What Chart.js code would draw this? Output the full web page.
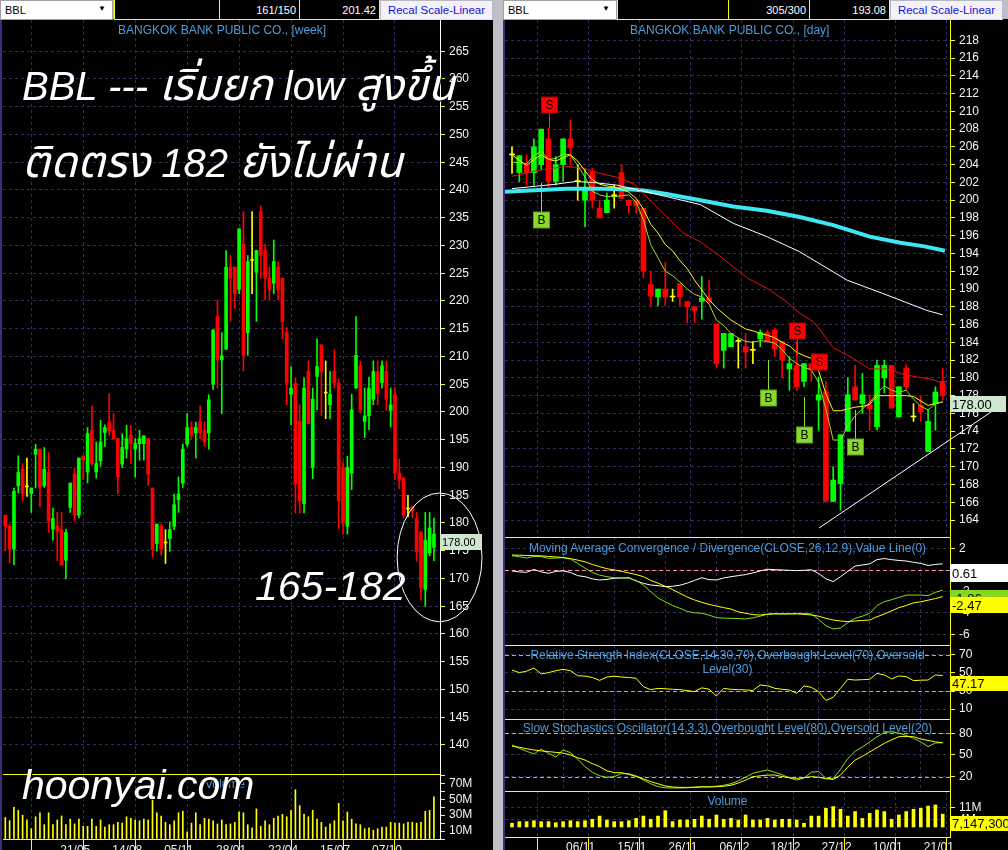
<!DOCTYPE html>
<html><head><meta charset="utf-8">
<script src="https://cdn.jsdelivr.net/npm/chart.js"></script>
<style>
html,body{margin:0;padding:0;width:1008px;height:850px;overflow:hidden;background:#bfbfc8;}
#stage{position:absolute;left:0;top:0;width:1008px;height:850px;}
.blk{position:absolute;background:#000;}
canvas{position:absolute;}
.hdr{position:absolute;top:0;height:20px;box-sizing:border-box;font:11px "Liberation Sans",Arial,sans-serif;white-space:nowrap;}
.inp{background:#fff;color:#000;border:1px solid #a0a0a8;padding:3px 0 0 4px;}
.arr{position:absolute;right:6px;top:3px;font-size:8px;}
.box{background:#000;color:#fff;border:1px solid #ffff00;border-top:none;text-align:right;padding:4px 3px 0 0;}
.btn{background:#f4f1fb;color:#1414d2;border:1px solid #b8b8c0;border-bottom:1px solid #ffff00;text-align:center;padding:3px 0 0 0;font-size:11.5px;}
.ttl{position:absolute;font:12px "Liberation Sans",Arial,sans-serif;color:#4c9cd8;white-space:nowrap;z-index:3;}
.big{position:absolute;color:#fff;font-style:italic;font-family:"Liberation Sans",Arial,"Noto Sans Thai","Loma","Garuda","Norasi",sans-serif;white-space:nowrap;text-shadow:1px 1px 1px #000;line-height:1;z-index:5;}
.th{font-size:44px;}
</style></head><body><div id="stage">
<div class="blk" style="left:0;top:19px;width:493px;height:831px;border-left:2px solid #3a2f7a;box-sizing:border-box;"></div>
<div class="blk" style="left:503px;top:19px;width:505px;height:831px;border-left:2px solid #3a2f7a;box-sizing:border-box;"></div>

<div class="hdr inp" style="left:0;width:113px;">BBL<span class="arr">&#9660;</span></div>
<div class="hdr box" style="left:114px;width:106px;"></div>
<div class="hdr box" style="left:219px;width:81px;">161/150</div>
<div class="hdr box" style="left:299px;width:81px;">201.42</div>
<div class="hdr btn" style="left:380px;width:113px;">Recal Scale-Linear</div>

<div class="hdr inp" style="left:503px;width:114px;">BBL<span class="arr">&#9660;</span></div>
<div class="hdr box" style="left:617px;width:112px;"></div>
<div class="hdr box" style="left:728px;width:82px;">305/300</div>
<div class="hdr box" style="left:809px;width:81px;">193.08</div>
<div class="hdr btn" style="left:890px;width:113px;">Recal Scale-Linear</div>

<div id="charts"></div>

<div class="ttl" style="left:118px;top:23px;">BANGKOK BANK PUBLIC CO., [week]</div>
<div class="ttl" style="left:630px;top:23px;">BANGKOK BANK PUBLIC CO., [day]</div>
<div class="ttl" style="left:205px;top:777px;">Volume</div>
<div class="ttl" style="left:505px;width:445px;text-align:center;top:541px;">Moving Average Convergence / Divergence(CLOSE,26,12,9),Value Line(0)</div>
<div class="ttl" style="left:505px;width:445px;text-align:center;top:648px;line-height:14px;white-space:normal;">Relative Strength Index(CLOSE,14,30,70),Overbought Level(70),Oversold<br>Level(30)</div>
<div class="ttl" style="left:505px;width:445px;text-align:center;top:721px;">Slow Stochastics Oscillator(14,3,3),Overbought Level(80),Oversold Level(20)</div>
<div class="ttl" style="left:505px;width:445px;text-align:center;top:794px;">Volume</div>

<div class="big" style="left:22px;top:63px;font-size:40px;">BBL --- <span class="th">เริ่มยก</span> low <span class="th">สูงขึ้น</span></div>
<div class="big" style="left:22px;top:140px;font-size:40px;"><span class="th">ติดตรง</span> 182 <span class="th">ยังไม่ผ่าน</span></div>
<div class="big" style="left:255px;top:566px;font-size:41px;">165-182</div>
<div class="big" style="left:22px;top:765px;font-size:41px;">hoonyai.com</div>
</div>
<script>
// ================= WEEKLY (left) =================
const wkOpen = [181.4,179.4,175.3,186.7,189.7,186.5,185.3,192.4,193.3,186.7, 189.2,178.9,179.4,178.8,173.3,182.8,188.8,181.4,192.1,189.2, 196.7,189.2,191.2,196.3,198.2,196.7,195.2,190.6,193.3,195.8, 193.3,194.3,194.3,195.2,186.3,176.3,179.4,176.4,177.2,179.4, 184.2,187.2,194.2,197.2,196.2,198.2,196.7,196.2,205.0,217.2, 209.4,211.3,226.1,226.1,222.1,230.2,214.3,227.3,225.2,236.1, 229.1,224.1,223.2,226.1,224.1,214.3,203.2,205.2,198.3,183.5, 207.3,190.0,206.4,212.1,203.4,201.3,207.3,205.2,190.0,179.4, 189.0,204.3,208.3,198.3,199.3,202.3,207.3,205.3,207.3,200.3, 203.2,189.0,188.1,182.5,182.9,180.9,178.4,168.0,174.6,175.6];
const wkHigh = [181.4,179.8,186.3,192.1,190.7,191.7,186.3,194.2,193.3,193.6, 192.7,182.7,181.9,181.9,178.9,187.2,189.8,191.7,192.1,197.2, 201.1,194.6,198.5,197.7,203.3,199.7,195.2,196.1,197.6,197.6, 195.2,196.7,195.7,195.2,186.3,179.8,179.8,178.8,180.2,185.2, 188.3,194.2,199.7,198.2,198.2,201.1,198.2,203.1,214.8,220.2, 214.3,229.1,228.2,226.1,233.0,236.1,228.2,236.1,229.1,237.1, 230.2,226.1,231.0,227.1,224.1,215.2,208.2,206.2,201.3,206.2, 209.2,204.3,213.2,212.1,209.2,207.3,211.2,206.0,191.0,192.0, 203.2,217.2,209.2,204.3,206.3,209.2,209.2,209.2,209.2,204.3, 204.3,191.5,188.1,185.0,183.0,181.9,178.4,181.9,181.9,180.9];
const wkLow = [175.0,172.8,172.5,185.4,183.9,184.8,181.9,186.3,182.9,186.4, 178.3,176.9,173.2,172.4,169.9,181.9,180.3,180.9,187.8,187.2, 190.3,188.1,190.2,193.8,195.8,195.2,185.3,190.0,191.7,190.7, 188.3,191.3,191.3,186.8,173.8,174.9,174.2,172.7,174.9,178.8, 181.9,186.4,193.8,195.2,191.7,195.2,193.8,193.3,204.0,204.3, 199.7,211.3,216.3,218.7,221.3,207.4,210.2,221.3,216.3,224.1, 220.2,220.2,221.3,220.2,213.2,201.3,197.7,181.8,181.8,181.8, 197.9,188.0,200.4,199.3,198.8,198.8,204.3,179.0,178.0,178.0, 186.0,204.3,199.8,195.4,196.8,201.3,201.3,204.3,200.3,197.3, 187.8,186.2,180.9,181.1,181.0,173.1,166.1,165.0,174.1,173.2];
const wkClose = [179.4,175.3,185.7,189.1,185.3,186.5,186.3,193.3,186.4,189.7, 180.4,180.8,178.5,172.4,178.3,187.2,181.4,191.7,191.4,196.1, 190.7,190.7,194.6,197.2,196.6,195.2,188.3,193.6,195.2,194.3, 194.3,195.2,195.7,188.8,175.2,179.8,175.3,176.4,178.8,183.3, 185.2,193.3,197.2,195.8,197.2,196.2,194.6,202.2,214.8,209.4, 210.1,226.1,224.1,221.3,233.0,210.2,227.1,227.3,229.1,228.2, 224.1,222.1,227.1,222.1,216.3,205.2,204.3,187.0,184.0,204.3, 197.9,202.3,208.2,207.3,203.4,203.2,205.2,184.0,180.0,190.0, 200.4,210.2,200.4,199.3,204.3,207.3,203.3,208.3,202.3,201.3, 189.0,187.7,181.4,182.5,182.1,174.8,168.3,176.9,179.1,178.0];
const wkVolM = [27,23,40,36,30,24,13,28,33,18, 33,18,24,29,18,25,19,25,16,16, 25,16,24,15,18,18,21,20,28,26, 24,23,25,24,57,33,29,21,18,23, 33,35,9,20,33,18,26,25,23,19, 24,18,19,21,34,33,18,14,38,16, 23,18,26,29,31,28,36,62,42,31, 28,36,25,21,15,19,23,45,23,34, 25,19,18,13,14,11,13,15,15,21, 20,20,19,21,21,20,21,35,36,53];
const wkTickIdx = [12,24,36,48,60,72,84,96];
const wkTickLbl = ['21/05','14/08','05/11','28/01','22/04','15/07','07/10',''];
const wkPriceTicks = [140,145,150,155,160,165,170,175,180,185,190,195,200,205,210,215,220,225,230,235,240,245,250,255,260,265];
const wkVolTicks = [0,10,20,30,40,50,60,70,80];
const wkVolLabelled = [10,30,50,70];
const wkZone = {idx:100.3, price:173.8, rIdx:9.8, rPrice:11.6};

// ================= DAILY (right) =================
const dyLabels = ['26/10','29/10','30/10','31/10','01/11','02/11','05/11','06/11','07/11','08/11','09/11','12/11','13/11','14/11','15/11','16/11','19/11','20/11','21/11','22/11','23/11','26/11','27/11','28/11','29/11','30/11','03/12','04/12','06/12','07/12','11/12','12/12','13/12','14/12','17/12','18/12','19/12','20/12','21/12','24/12','25/12','26/12','27/12','28/12','03/01','04/01','07/01','08/01','09/01','10/01','11/01','14/01','15/01','16/01','17/01','18/01','21/01','22/01','23/01','24/01'];
const dyTickIdx = [7,14,21,28,35,42,49,56];
const dyOpen = [205.1,203.1,204.0,203.1,204.0,206.9,202.1,204.0,206.9,202.1, 200.0,203.2,199.1,198.6,200.5,203.1,200.0,200.0,199.1,190.5, 189.1,190.0,189.1,190.6,188.6,188.0,188.6,189.0,186.1,183.1, 183.5,184.1,183.5,183.1,184.4,185.1,185.4,184.1,181.0,181.4, 179.6,181.6,177.5,178.4,166.1,168.1,174.0,179.0,177.1,177.0, 174.5,180.0,181.4,175.6,181.1,175.6,176.9,171.7,177.1,179.6];
const dyHigh = [206.0,205.0,205.1,206.9,208.0,208.1,204.9,206.9,209.0,204.0, 203.5,203.6,200.0,200.8,201.7,204.0,200.0,200.0,199.1,192.0, 190.0,193.0,190.0,190.6,188.6,188.0,191.4,191.0,186.1,185.0, 185.0,184.4,185.0,184.1,185.4,185.4,185.6,184.1,182.4,184.1, 181.6,181.6,180.1,179.6,170.0,173.6,180.0,181.4,180.5,178.1, 182.0,182.0,181.4,179.0,181.5,177.1,177.9,176.4,179.0,181.1];
const dyLow = [203.0,202.1,201.7,201.7,203.4,201.5,201.7,202.1,204.0,200.0, 197.0,199.1,198.0,198.6,199.1,200.2,198.5,198.5,191.3,188.1, 188.1,188.1,188.6,188.1,186.2,186.2,186.6,188.4,181.1,181.1, 183.5,181.1,181.1,181.6,183.5,184.0,182.4,180.0,178.6,178.6, 179.0,179.6,174.1,166.1,166.1,165.1,174.0,177.5,176.0,174.1, 174.1,178.3,176.6,175.6,178.7,175.1,175.1,171.7,174.1,177.5];
const dyClose = [205.1,205.0,203.1,206.0,208.0,202.1,204.0,206.9,205.9,202.1, 201.1,200.0,198.0,200.0,200.5,200.2,199.4,199.4,192.0,189.2, 190.0,189.1,189.1,189.1,188.0,187.6,189.0,188.6,181.6,185.0, 185.0,184.1,182.9,183.1,185.1,184.1,183.3,182.0,181.6,179.0, 181.6,180.9,178.1,166.1,168.5,173.6,178.1,177.5,178.1,176.5, 181.4,181.4,176.6,179.0,179.0,175.6,176.2,175.1,178.4,178.0];
const dyMaFast = [204.3,204.2,204.1,205.0,205.5,204.6,204.7,205.2,205.1,203.9, 202.6,201.0,200.6,200.4,200.4,200.5,200.6,199.8,197.8,195.0, 193.5,192.0,191.5,190.8,190.0,189.4,189.1,188.3,186.5,185.9, 185.0,184.5,184.1,184.0,184.2,184.1,183.9,183.2,182.2,181.6, 181.2,180.9,179.5,176.5,173.0,173.0,174.6,175.7,176.5,177.2, 178.3,179.1,178.6,178.4,178.6,177.6,176.8,176.4,177.1,177.3];
const dyMaMid = [205.1,204.5,203.9,204.6,205.1,204.6,204.4,204.8,205.1,204.4, 203.3,202.3,201.8,201.6,201.5,201.2,200.9,200.2,199.0,197.3, 196.3,195.0,194.3,193.2,192.3,191.0,189.9,188.8,187.9,187.2, 186.5,186.0,185.5,185.3,185.0,184.8,184.5,184.0,183.6,182.9, 182.5,182.2,180.8,178.2,176.3,176.3,176.5,176.7,176.8,177.0, 178.0,178.0,178.0,178.0,178.0,177.9,177.4,176.9,177.1,177.3];
const dyMaRedIdx = [0,3.8,7.5,9.8,12.1,14.3,16.6,18.9,21.2,23.5,25.8,28,30.3,32.3,34.9,37.4,39.4,41.3,42.2,44,46.3,49,51.3,54.1,57.7,59];
const dyMaRedVal = [202.7,203.4,203.8,203.6,203.0,202.6,201.9,200.0,198.1,196.3,195.3,194.0,192.5,191.2,190.1,188.7,187.3,186.3,185.4,183.4,182.4,181.0,181.0,180.3,179.8,179.4];
const dyMaWhiteIdx = [0,2.4,6,8.7,11,14.3,17.5,21.2,25.8,30.3,34.9,39.4,45.9,50.8,56.8,59];
const dyMaWhiteVal = [201.3,201.5,201.8,202.1,202.0,201.7,201.1,200.4,199.5,197.4,195.9,194.2,191.0,189.5,187.6,187.1];
const dyMaCyanIdx = [-1,2.4,7.5,12.1,16.6,18,21.2,25.8,30.3,34.9,39.4,44,49,53.2,56.5,59.3];
const dyMaCyanVal = [200.95,201.1,201.3,201.3,201.2,201.1,200.7,200.0,199.3,198.8,198.1,197.2,195.9,195.2,194.8,194.3];
const trendIdx = [42.05, 67.5];
const trendVal = [163.1, 177.2];
const sigIdx = [5, 4, 39, 42, 35, 40, 47];
const sigType = ['S','B','S','S','B','B','B'];
const sigBox = [210.7, 197.8, 185.3, 181.8, 177.7, 173.6, 172.2];
const sigFrom = [208.1, 201.9, 182.6, 181.8, 182.0, 177.9, 176.4];
const dyPriceTicks = [164,166,168,170,172,174,176,178,180,182,184,186,188,190,192,194,196,198,200,202,204,206,208,210,212,214,216,218];
const dyVolM = [2.1,3.0,3.0,3.5,3.0,3.0,2.4,3.0,3.5,3.0, 3.5,4.3,6.1,3.9,3.0,3.0,3.5,4.8,6.1,4.3, 6.1,9.1,3.0,3.9,3.9,4.3,6.1,4.3,6.7,4.3, 4.8,3.9,6.7,3.9,3.9,4.8,3.9,4.3,4.3,3.9, 2.1,6.1,6.1,10.4,11.4,9.9,6.1,8.6,4.8,7.6, 9.5,8.6,4.3,6.7,8.6,9.9,10.4,11.7,12.3,7.1473];
const dyVolTicks = [4, 11];
const macdLine = [1.37,1.27,1.15,1.3,1.28,1.12,1.15,1.18,1.05,0.65, 0.2,-0.2,-0.45,-0.6,-0.69,-0.72,-0.75,-0.95,-1.38,-2.0, -2.6,-2.95,-3.3,-3.56,-3.85,-3.98,-4.03,-4.2,-4.44,-4.48, -4.5,-4.52,-4.56,-4.45,-4.3,-4.1,-4.05,-4.09,-4.07,-4.03, -4.05,-4.09,-4.6,-5.2,-5.5,-5.4,-4.9,-4.5,-4.3,-4.03, -3.3,-2.94,-2.75,-2.55,-2.32,-2.32,-2.32,-2.38,-2.06,-1.86];
const macdSignal = [1.43,1.41,1.39,1.37,1.35,1.3,1.25,1.2,1.1,0.95, 0.8,0.55,0.34,0.15,0.03,-0.1,-0.25,-0.4,-0.6,-0.95, -1.2,-1.5,-1.8,-2.16,-2.5,-2.78,-3.0,-3.2,-3.35,-3.5, -3.63,-3.9,-4.03,-4.15,-4.19,-4.12,-4.09,-4.09,-4.09,-4.09, -4.12,-4.19,-4.3,-4.5,-4.66,-4.75,-4.81,-4.75,-4.7,-4.66, -4.35,-4.1,-3.8,-3.5,-3.3,-3.05,-2.95,-2.8,-2.65,-2.47];
const macdHist = [-0.06,-0.15,-0.19,0.08,-0.15,-0.28,-0.1,-0.06,-0.2,-0.5, -0.6,-0.8,-0.91,-0.85,-0.75,-0.72,-0.69,-1.0,-1.22,-1.38, -1.44,-1.53,-1.5,-1.4,-1.2,-0.95,-0.7,-0.88,-0.9,-0.72, -0.6,-0.5,-0.4,-0.25,-0.06,0.1,0.06,0.03,0.0,-0.03, 0.0,0.05,-0.3,-0.8,-1.06,-0.6,-0.1,0.4,0.5,0.6, 1.0,1.1,1.0,0.92,0.87,0.75,0.65,0.45,0.55,0.61];
const macdTicks = [-6,-4,-2,0,2];
const macdLevels = [0];
const rsi = [53.3,50.4,52,55.5,49,50.4,52.5,54.1,52.5,47, 46.5,45,41.8,45.5,46.5,45.5,45,44.1,34.8,31.5, 32.9,32.5,31.9,31.5,30.5,29.3,33.5,32,24.4,32.9, 31.9,31.5,31.2,30.6,36.7,35.8,33,31.9,31.1,27.4, 35.6,34.1,29.3,19.5,23.0,33,43,42.2,42.6,43.0, 49.6,47.8,43.5,46.7,46,41.5,42,42.2,47.8,47.17];
const rsiTicks = [10,30,50,70];
const rsiLevels = [30,70];
const stochK = [63.7,59.1,55,51.3,58,52.2,47,57,53.1,44, 33.7,26,21,19,19.9,24,24,21,15.2,10, 6,4.5,4.2,4.2,4.5,5.5,6,6,6.5,8, 10,14,19,24.5,27,29,26,22.5,18,15.2, 18,26,27,17.5,17.5,30,45,55,61,68, 75,81,82,80,77,73,68,61.4,66.5,66.9];
const stochD = [62.3,60.5,58.5,56.8,55.5,54.5,53.5,52.5,50,46, 42.9,38,33.7,28,25.4,25.4,23,20,17,13, 10,7,5.5,5,5,5,5.5,5.5,6,6.5, 8,11,15,19.9,21,22,22.2,20,18.5,17.5, 18.5,19.9,19,17,16.1,22,33,42.9,48,54, 60,66,71,75.2,75.5,75.2,72,70,68,66.9];
const stochTicks = [20,50,80];
const stochLevels = [20,80];

// ================= helpers =================
const FF = '"Liberation Sans", Arial, Helvetica, sans-serif';
const UP = '#00ff00', DN = '#ff0000', DJ = '#ffff00', YEL = '#ffff00', GRID = '#302d66', PINK = '#ff8c8c';
Chart.defaults.font.family = FF; Chart.defaults.font.size = 12; Chart.defaults.color = '#f2f2f2';
const holder = document.getElementById('charts');

function mkChart(left, top, w, h, cfg) {
  const cv = document.createElement('canvas');
  cv.width = w; cv.height = h;
  cv.style.left = left + 'px'; cv.style.top = top + 'px';
  cv.style.width = w + 'px'; cv.style.height = h + 'px';
  holder.appendChild(cv);
  return new Chart(cv.getContext('2d'), cfg);
}
function opts(padLeft, scales) {
  return {responsive:false, animation:false, devicePixelRatio:1, events:[],
    layout:{padding:{left:padLeft, right:0, top:0, bottom:0}},
    plugins:{legend:{display:false}, tooltip:{enabled:false}, title:{display:false}},
    scales};
}
function xAxis(min, max, tIdx, labelOf, show, axisH, pad) {
  return {type:'linear', min, max, offset:false,
    afterBuildTicks: s => { s.ticks = tIdx.map(v => ({value:v})); },
    afterFit: s => { s.height = show ? axisH : 0; s.paddingLeft = 0; s.paddingRight = 0; s.paddingTop = 0; s.paddingBottom = 0; },
    grid:{color:GRID, lineWidth:1, drawTicks:show, tickLength:axisH, tickColor:YEL, tickBorderDash:[], tickWidth:1},
    border:{display:show, color:YEL, dash:[3,3], width:1},
    ticks:{display:show, autoSkip:false, maxRotation:0, minRotation:0, align:'start', labelOffset:3, padding:pad, color:'#f0f0f0',
      callback: v => labelOf(v)}};
}
function yAxis(min, max, tVals, fmt, width, borderColor, gridOn) {
  return {position:'right', min, max,
    afterBuildTicks: s => { s.ticks = tVals.map(v => ({value:v})); },
    afterFit: s => { s.width = width; s.paddingTop = 0; s.paddingBottom = 0; },
    grid:{color:GRID, drawOnChartArea:gridOn, tickLength:5, tickColor:YEL, tickBorderDash:[], tickWidth:1},
    border:{color:borderColor, dash:[3,3], width:1},
    ticks:{padding:4, color:'#f4f4f4', autoSkip:false, callback: fmt}};
}
function candleSets(o, h, l, c, bodyW) {
  const col = o.map((v, i) => c[i] > v ? UP : (c[i] < v ? DN : DJ));
  return [
    {type:'bar', data:o.map((v, i) => ({x:i, y:[v, c[i]]})), backgroundColor:col, barThickness:bodyW, minBarLength:1, grouped:false, borderWidth:0, order:5},
    {type:'bar', data:o.map((v, i) => ({x:i, y:[l[i], h[i]]})), backgroundColor:col, barThickness:1, grouped:false, borderWidth:0, order:6}
  ];
}
function lineSet(xs, ys, color, width, order, extra) {
  return Object.assign({type:'line', data:ys.map((v, i) => ({x:xs[i], y:v})), borderColor:color, borderWidth:width,
    pointRadius:0, fill:false, tension:0, order}, extra || {});
}
const seq = n => Array.from({length:n}, (_, i) => i);
function topLine() {
  return {id:'topLine', afterDraw(chart) {
    const {ctx, chartArea:a} = chart;
    ctx.save(); ctx.strokeStyle = YEL; ctx.lineWidth = 1;
    ctx.beginPath(); ctx.moveTo(a.left, a.top + 0.5); ctx.lineTo(a.right, a.top + 0.5); ctx.stroke(); ctx.restore();
  }};
}
function levels(vals) {
  return {id:'levels', beforeDatasetsDraw(chart) {
    const {ctx, chartArea:a, scales:{y}} = chart;
    ctx.save(); ctx.strokeStyle = PINK; ctx.lineWidth = 1; ctx.setLineDash([4,3]);
    vals.forEach(v => { const py = Math.round(y.getPixelForValue(v)) + 0.5;
      ctx.beginPath(); ctx.moveTo(a.left, py); ctx.lineTo(a.right, py); ctx.stroke(); });
    ctx.restore();
  }};
}
function tags(items, w, font) {
  return {id:'tags', afterDraw(chart) {
    const {ctx, chartArea:a, scales:{y}} = chart;
    ctx.save(); ctx.font = font; ctx.textBaseline = 'middle'; ctx.textAlign = 'left';
    items.forEach(t => {
      const py = Math.round(y.getPixelForValue(t.v)) + (t.dy || 0);
      ctx.fillStyle = t.bg; ctx.fillRect(a.right, py, w, t.h);
      ctx.fillStyle = t.fg; ctx.fillText(t.text, a.right + 2, py + t.h / 2 + 1);
    });
    ctx.restore();
  }};
}

// ================= LEFT: weekly price =================
const wkN = wkOpen.length;
const wkX = [-0.53, 100.4];
const wkLabel = v => { const k = wkTickIdx.indexOf(v); return k >= 0 ? wkTickLbl[k] : ''; };
const zonePlugin = {id:'zone', afterDatasetsDraw(chart) {
  const {ctx, scales:{x, y}} = chart;
  const cx = x.getPixelForValue(wkZone.idx), cy = y.getPixelForValue(wkZone.price);
  const rx = Math.abs(x.getPixelForValue(wkZone.idx + wkZone.rIdx) - cx);
  const ry = Math.abs(y.getPixelForValue(wkZone.price + wkZone.rPrice) - cy);
  ctx.save(); ctx.strokeStyle = '#ffffff'; ctx.lineWidth = 1;
  ctx.beginPath(); ctx.ellipse(cx, cy, rx, ry, 0, 0, Math.PI * 2); ctx.stroke(); ctx.restore();
}};
mkChart(0, 20, 493, 754, {
  type:'bar',
  data:{datasets:candleSets(wkOpen, wkHigh, wkLow, wkClose, 3)},
  options:opts(3, {
    x:xAxis(wkX[0], wkX[1], wkTickIdx, wkLabel, false, 0, 0),
    y:yAxis(134.77, 270.63, wkPriceTicks, v => String(v), 53, '#ffffff', true)
  }),
  plugins:[tags([{v:wkClose[wkN - 1], text:wkClose[wkN - 1].toFixed(2), bg:'#cfe6cf', fg:'#000', h:16}], 42, '11px ' + FF), zonePlugin]
});
// ================= LEFT: weekly volume =================
mkChart(0, 774, 493, 76, {
  type:'bar',
  data:{datasets:[{type:'bar', data:wkVolM.map((v, i) => ({x:i, y:v})), backgroundColor:YEL, barThickness:1, grouped:false, borderWidth:0}]},
  options:opts(3, {
    x:xAxis(wkX[0], wkX[1], wkTickIdx, wkLabel, true, 11, -7),
    y:yAxis(0, 81.8, wkVolTicks, v => wkVolLabelled.includes(v) ? v + 'M' : '', 53, '#ffffff', false)
  }),
  plugins:[topLine()]
});

// ================= RIGHT: daily price =================
const dyN = dyOpen.length;
const dyX = [-0.96, 60.0];
const dyLabel = v => dyTickIdx.includes(v) ? dyLabels[v] : '';
const sigPlugin = {id:'sig', afterDatasetsDraw(chart) {
  const {ctx, scales:{x, y}} = chart;
  ctx.save(); ctx.font = '12px ' + FF; ctx.textAlign = 'center'; ctx.textBaseline = 'middle';
  sigIdx.forEach((idx, k) => {
    const px = Math.round(x.getPixelForValue(idx)) + 0.5;
    const py = Math.round(y.getPixelForValue(sigBox[k]));
    const p0 = Math.round(y.getPixelForValue(sigFrom[k]));
    const isS = sigType[k] === 'S';
    ctx.strokeStyle = isS ? '#ff2020' : '#8ee030'; ctx.lineWidth = 1;
    ctx.beginPath(); ctx.moveTo(px, p0); ctx.lineTo(px, py); ctx.stroke();
    ctx.fillStyle = isS ? '#ff0000' : '#8ad82c';
    ctx.fillRect(px - 8, py - 8, 16, 16);
    ctx.strokeStyle = isS ? '#b00000' : '#5c9e18';
    ctx.strokeRect(px - 8, py - 8, 16, 16);
    ctx.fillStyle = '#000'; ctx.fillText(sigType[k], px, py + 1);
  });
  ctx.restore();
}};
mkChart(503, 20, 505, 517, {
  type:'bar',
  data:{datasets:[
    lineSet(dyMaCyanIdx, dyMaCyanVal, '#3ce6f2', 4, 4),
    lineSet(dyMaWhiteIdx, dyMaWhiteVal, '#ffffff', 1, 3),
    lineSet(dyMaRedIdx, dyMaRedVal, '#e81010', 1, 3),
    lineSet(seq(dyN), dyMaMid, '#ffff00', 1, 2),
    lineSet(seq(dyN), dyMaFast, '#96e024', 1, 1),
    lineSet(trendIdx, trendVal, '#ffffff', 1, 0, {clip:false}),
    ...candleSets(dyOpen, dyHigh, dyLow, dyClose, 5)
  ]},
  options:opts(2, {
    x:xAxis(dyX[0], dyX[1], dyTickIdx, dyLabel, false, 0, 0),
    y:yAxis(162.09, 220.28, dyPriceTicks, v => String(v), 58, YEL, true)
  }),
  plugins:[sigPlugin, tags([{v:dyClose[dyN - 1], text:dyClose[dyN - 1].toFixed(2), bg:'#cfe6cf', fg:'#000', h:16}], 56, '13px ' + FF)]
});
// ================= MACD =================
mkChart(503, 537, 505, 108, {
  type:'line',
  data:{datasets:[
    lineSet(seq(dyN), macdHist, '#ffffff', 1, 3),
    lineSet(seq(dyN), macdLine, '#7ee01e', 1, 2),
    lineSet(seq(dyN), macdSignal, '#ffff00', 1, 1)
  ]},
  options:opts(2, {
    x:xAxis(dyX[0], dyX[1], dyTickIdx, dyLabel, false, 0, 0),
    y:yAxis(-7.0, 3.12, macdTicks, v => String(v), 58, YEL, true)
  }),
  plugins:[topLine(), levels(macdLevels), tags([
    {v:macdHist[dyN - 1], text:macdHist[dyN - 1].toFixed(2), bg:'#ffffff', fg:'#000', h:18},
    {v:macdLine[dyN - 1], text:macdLine[dyN - 1].toFixed(2), bg:'#86d81e', fg:'#000', h:16},
    {v:macdSignal[dyN - 1], text:macdSignal[dyN - 1].toFixed(2), bg:'#ffff00', fg:'#000', h:16}
  ], 58, '13px ' + FF)]
});
// ================= RSI =================
mkChart(503, 645, 505, 74, {
  type:'line',
  data:{datasets:[lineSet(seq(dyN), rsi, '#ffff00', 1, 1)]},
  options:opts(2, {
    x:xAxis(dyX[0], dyX[1], dyTickIdx, dyLabel, false, 0, 0),
    y:yAxis(-1.1, 81.1, rsiTicks, v => String(v), 58, YEL, true)
  }),
  plugins:[topLine(), levels(rsiLevels), tags([{v:rsi[dyN - 1], text:rsi[dyN - 1].toFixed(2), bg:'#ffff00', fg:'#000', h:15}], 58, '13px ' + FF)]
});
// ================= STOCHASTIC =================
mkChart(503, 719, 505, 72, {
  type:'line',
  data:{datasets:[
    lineSet(seq(dyN), stochK, '#86e020', 1, 2),
    lineSet(seq(dyN), stochD, '#ffff00', 1, 1)
  ]},
  options:opts(2, {
    x:xAxis(dyX[0], dyX[1], dyTickIdx, dyLabel, false, 0, 0),
    y:yAxis(0, 99.7, stochTicks, v => String(v), 58, YEL, true)
  }),
  plugins:[topLine(), levels(stochLevels)]
});
// ================= DAILY VOLUME =================
mkChart(503, 791, 505, 59, {
  type:'bar',
  data:{datasets:[{type:'bar', data:dyVolM.map((v, i) => ({x:i, y:v})), backgroundColor:YEL, barThickness:3, grouped:false, borderWidth:0}]},
  options:opts(2, {
    x:xAxis(dyX[0], dyX[1], dyTickIdx, dyLabel, true, 13, -10),
    y:yAxis(-5.59, 20.1, dyVolTicks, v => v + 'M', 58, YEL, true)
  }),
  plugins:[topLine(), tags([{v:dyVolM[dyN - 1], text:Math.round(dyVolM[dyN - 1] * 1e6).toLocaleString('en-US'), bg:'#ffff00', fg:'#000', h:15, dy:2}], 58, '13px ' + FF)]
});
</script>
</body></html>
